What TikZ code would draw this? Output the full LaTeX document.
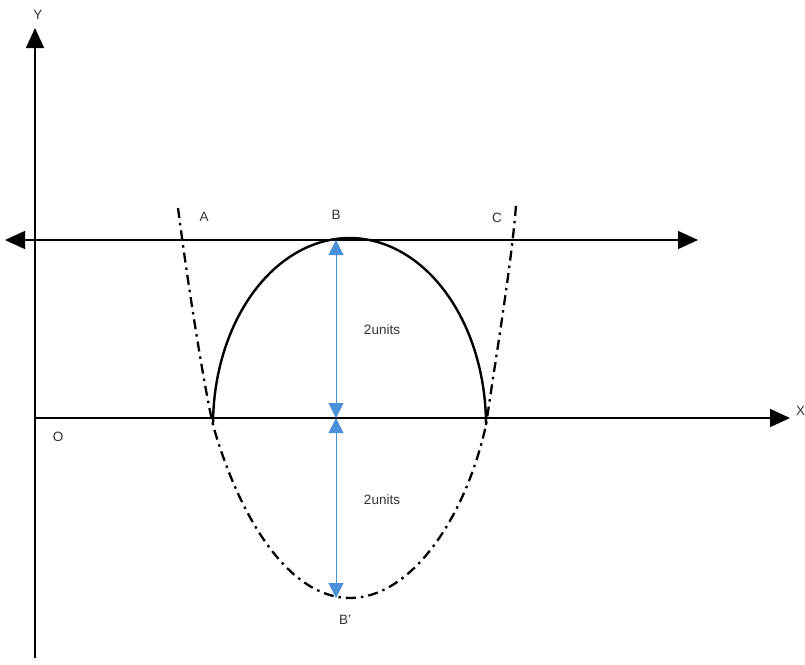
\documentclass[tikz,border=0pt]{standalone}
\usepackage{fontspec}
\setmainfont{Liberation Sans}
\usetikzlibrary{arrows.meta}
\definecolor{blu}{HTML}{4A90D9}
\definecolor{txt}{HTML}{333333}
\tikzset{
  axis/.style={line width=1.4pt,-{Triangle[length=20pt,width=18pt]}},
  axis2/.style={line width=1.4pt,{Triangle[length=20pt,width=18pt]}-{Triangle[length=20pt,width=18pt]}},
  barr/.style={blu,line width=1pt,{Triangle[length=15pt,width=15pt]}-{Triangle[length=15pt,width=15pt]}},
  lbl/.style={text=txt,font=\fontsize{13.5}{16}\selectfont,inner sep=0pt},
  dashdot/.style={line width=2.3pt,dash pattern=on 10pt off 5pt on 2.5pt off 5pt},
}
\begin{document}
\begin{tikzpicture}[x=1pt,y=-1pt]
\useasboundingbox (0,0) rectangle (805,664);
\fill[white] (0,0) rectangle (805,664);
% axes
\coordinate (yb) at (35,658); \coordinate (yt) at (35,28);
\coordinate (xl) at (35,418); \coordinate (xr) at (790,418);
\coordinate (hl) at (5,240); \coordinate (hr) at (698,240);
\draw[axis] (yb) -- (yt);
\draw[axis] (xl) -- (xr);
\draw[axis2] (hl) -- (hr);
% solid arch
\draw[line width=2.4pt] plot[domain=180:0,samples=80] ({349.5+136.5*cos(\x)},{425-187*sin(\x)});
% dash-dot curve
\coordinate (p1) at (178,208);
\coordinate (p2) at (213,425);
\coordinate (p3) at (350,598);
\coordinate (p4) at (486,425);
\coordinate (p5) at (516,205);
\draw[dashdot] (p1) .. controls (190,300) and (205,390) .. (p2)
  .. controls (240,520) and (290,598) .. (p3)
  .. controls (410,598) and (465,520) .. (p4)
  .. controls (497,350) and (512,260) .. (p5);
% blue arrows
\coordinate (b) at (336,240); \coordinate (m) at (336,418); \coordinate (bp) at (336,598);
\draw[barr] (b) -- (m);
\draw[barr] (m) -- (bp);
% labels
\node[lbl] (ly) at (38,15) {Y};
\node[lbl,anchor=west] (lx) at (796,411) {X};
\node[lbl] (lo) at (58,437) {O};
\node[lbl] (la) at (204,217) {A};
\node[lbl] (lb) at (336,215) {B};
\node[lbl] (lc) at (497,218) {C};
\node[lbl] (lbp) at (345,620) {B'};
\node[lbl] (u1) at (382,330) {2units};
\node[lbl] (u2) at (382,500) {2units};
\end{tikzpicture}
\end{document}
